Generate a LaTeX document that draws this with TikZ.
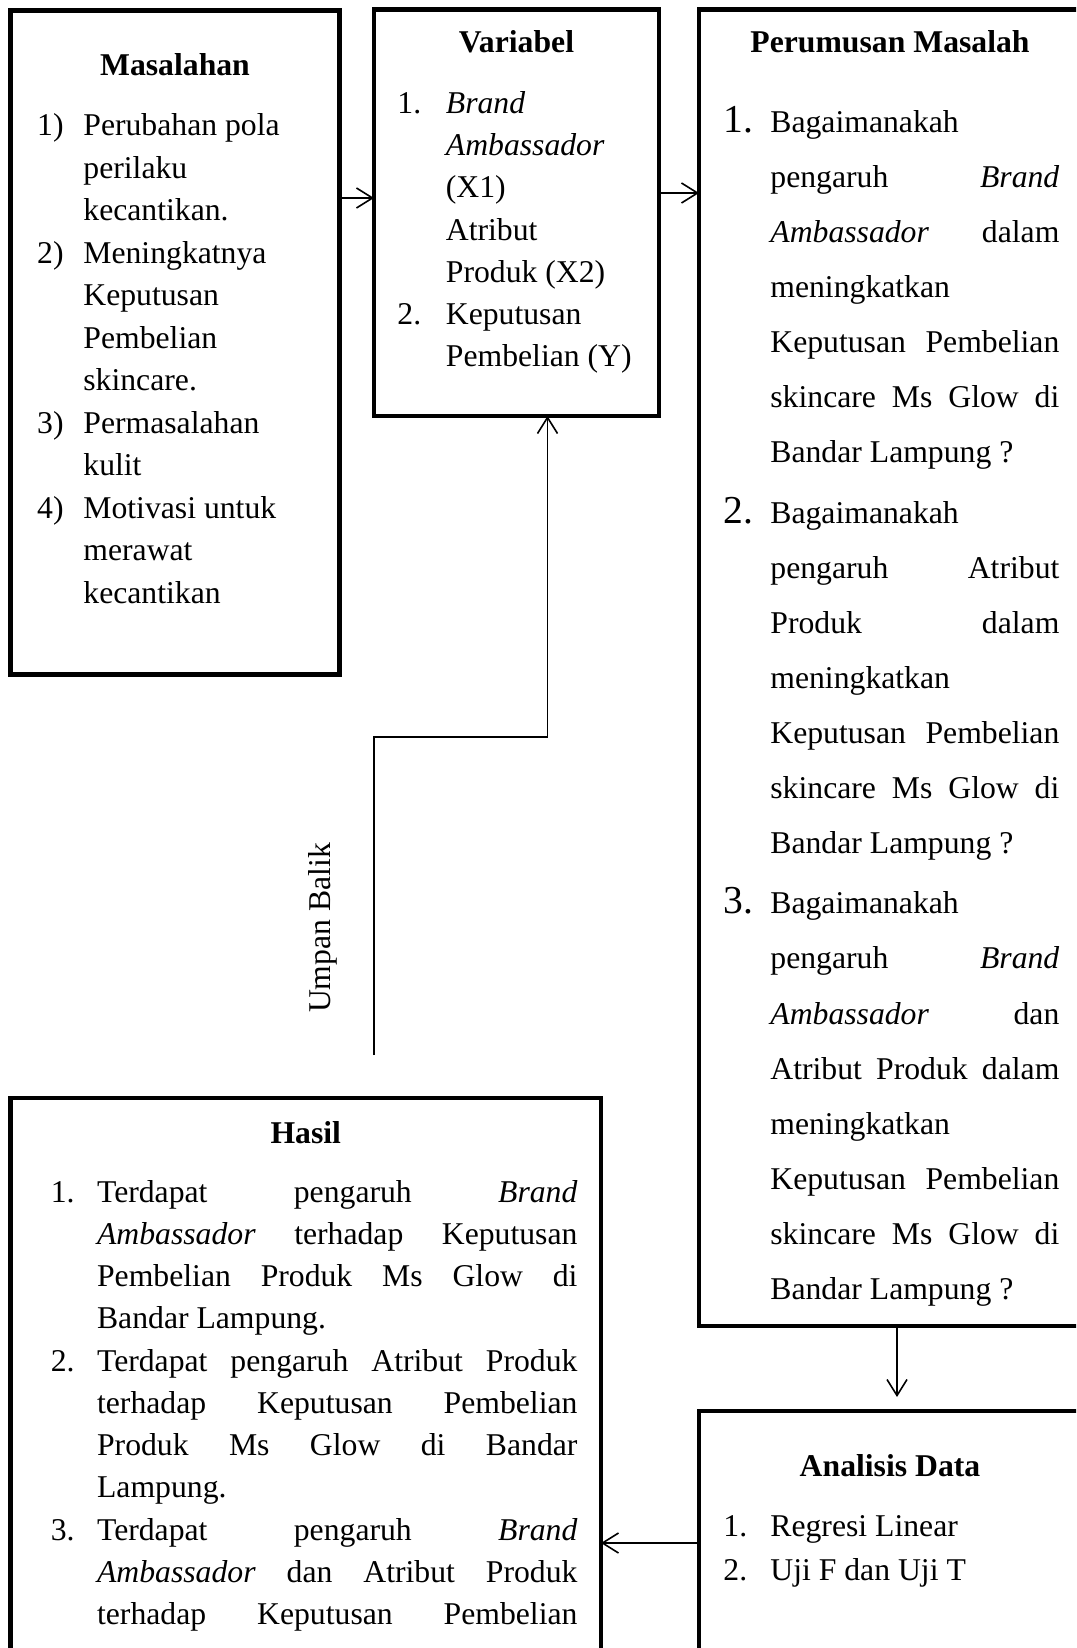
\documentclass[tikz,border=0pt]{standalone}
\usepackage{fontspec}
\setmainfont{Liberation Serif}
\usetikzlibrary{arrows.meta}
\newcommand\bodysz[1]{\fontsize{15.85pt}{#1}\selectfont}
\newcommand\lit[2]{\hangindent=#1\hangafter=1\noindent\makebox[#1][l]{#2}}
\newcommand\pnum[1]{\hangindent=23.5pt\hangafter=1\noindent\makebox[23.5pt][l]{\fontsize{19.8pt}{27.55pt}\selectfont #1}}
\begin{document}
\begin{tikzpicture}[x=0.5pt,y=-0.5pt,
  box/.style={draw, line width=2.35pt, inner sep=0pt, outer sep=0pt, anchor=north west},
  conn/.style={line width=0.8pt, -{Straight Barb[length=8pt,width=10pt]}},
  ttl/.style={font=\fontsize{15.85pt}{19pt}\selectfont\bfseries, anchor=base, inner sep=0pt},
  txt/.style={anchor=base west, inner sep=0pt}]
\path[use as bounding box] (0,0) rectangle (1076,1648);
\clip (0,0) rectangle (1076,1648);

% boxes
\node[box, minimum width=164.45pt, minimum height=332.05pt] (mas) at (10.5,10.5) {};
\node[box, minimum width=142.5pt, minimum height=203.25pt] (var) at (374,9.5) {};
\node[box, minimum width=191pt, minimum height=658.25pt] (per) at (699,9.5) {};
\node[box, minimum width=295.25pt, minimum height=320pt] (has) at (10.5,1098) {};
\node[box, minimum width=191pt, minimum height=160pt] (ana) at (699,1411) {};

% titles
\node[ttl] (masT) at (175,75.7) {Masalahan};
\node[ttl] (varT) at (516.5,52.5) {Variabel};
\node[ttl] (perT) at (890,52.5) {Perumusan Masalah};
\node[ttl] (hasT) at (305.8,1143) {Hasil};
\node[ttl] (anaT) at (890,1476.4) {Analisis Data};

% Masalahan
\node[txt] (masL) at (36.8,135.6) {\bodysz{21.25pt}\parbox[t]{150pt}{%
\lit{23.1pt}{1)}Perubahan pola\\ perilaku\\ kecantikan.\par
\lit{23.1pt}{2)}Meningkatnya\\ Keputusan\\ Pembelian\\ skincare.\par
\lit{23.1pt}{3)}Permasalahan\\ kulit\par
\lit{23.1pt}{4)}Motivasi untuk\\ merawat\\ kecantikan\par}};

% Variabel
\node[txt] (varL) at (397,113.5) {\bodysz{21.1pt}\parbox[t]{130pt}{%
\lit{24.25pt}{1.}\textit{Brand}\\ \textit{Ambassador}\\ (X1)\\ Atribut\\ Produk (X2)\par
\lit{24.25pt}{2.}Keputusan\\ Pembelian (Y)\par}};

% Perumusan Masalah
\node[txt] (perL) at (723,132.4) {\bodysz{27.55pt}\parbox[t]{168pt}{%
\pnum{1.}Bagaimanakah\\
pengaruh\hfill\textit{Brand}\\
\textit{Ambassador}\hfill dalam\\
meningkatkan\\
Keputusan\hfill Pembelian\\
skincare\hfill Ms\hfill Glow\hfill di\\
Bandar Lampung ?\par\vspace{2.5pt}
\pnum{2.}Bagaimanakah\\
pengaruh\hfill Atribut\\
Produk\hfill dalam\\
meningkatkan\\
Keputusan\hfill Pembelian\\
skincare\hfill Ms\hfill Glow\hfill di\\
Bandar Lampung ?\par\vspace{2.5pt}
\pnum{3.}Bagaimanakah\\
pengaruh\hfill\textit{Brand}\\
\textit{Ambassador}\hfill dan\\
Atribut\hfill Produk\hfill dalam\\
meningkatkan\\
Keputusan\hfill Pembelian\\
skincare\hfill Ms\hfill Glow\hfill di\\
Bandar Lampung ?\par}};

% Hasil
\node[txt] (hasL) at (50.4,1202.1) {\bodysz{21.12pt}\parbox[t]{263.35pt}{%
\lit{23.15pt}{1.}Terdapat\hfill pengaruh\hfill\textit{Brand}\\
\textit{Ambassador}\hfill terhadap\hfill Keputusan\\
Pembelian\hfill Produk\hfill Ms\hfill Glow\hfill di\\
Bandar Lampung.\par
\lit{23.15pt}{2.}Terdapat\hfill pengaruh\hfill Atribut\hfill Produk\\
terhadap\hfill Keputusan\hfill Pembelian\\
Produk\hfill Ms\hfill Glow\hfill di\hfill Bandar\\
Lampung.\par
\lit{23.15pt}{3.}Terdapat\hfill pengaruh\hfill\textit{Brand}\\
\textit{Ambassador}\hfill dan\hfill Atribut\hfill Produk\\
terhadap\hfill Keputusan\hfill Pembelian\par}};

% Analisis Data
\node[txt] (anaL) at (723,1536.3) {\bodysz{22pt}\parbox[t]{168pt}{%
\lit{23.5pt}{1.}Regresi Linear\par
\lit{23.5pt}{2.}Uji F dan Uji T\par}};

% feedback label
\node[rotate=90, anchor=base, inner sep=0pt, font=\bodysz{19pt}] (ub) at (330,928) {Umpan Balik};

% connectors
\coordinate (c1) at (0,198);
\draw[conn] (mas.east |- c1) -- (var.west |- c1);
\coordinate (c2) at (0,193);
\draw[conn] (var.east |- c2) -- (per.west |- c2);
\coordinate (fb0) at (374,1055);
\coordinate (fb1) at (374,737);
\coordinate (fbx) at (547.5,0);
\draw[conn] (fb0) -- (fb1) -| (var.south -| fbx);
\coordinate (c3) at (897,0);
\draw[conn, shorten >=7pt] (per.south -| c3) -- (ana.north -| c3);
\coordinate (c4) at (0,1543);
\draw[conn] (ana.west |- c4) -- (has.east |- c4);
\end{tikzpicture}
\end{document}
